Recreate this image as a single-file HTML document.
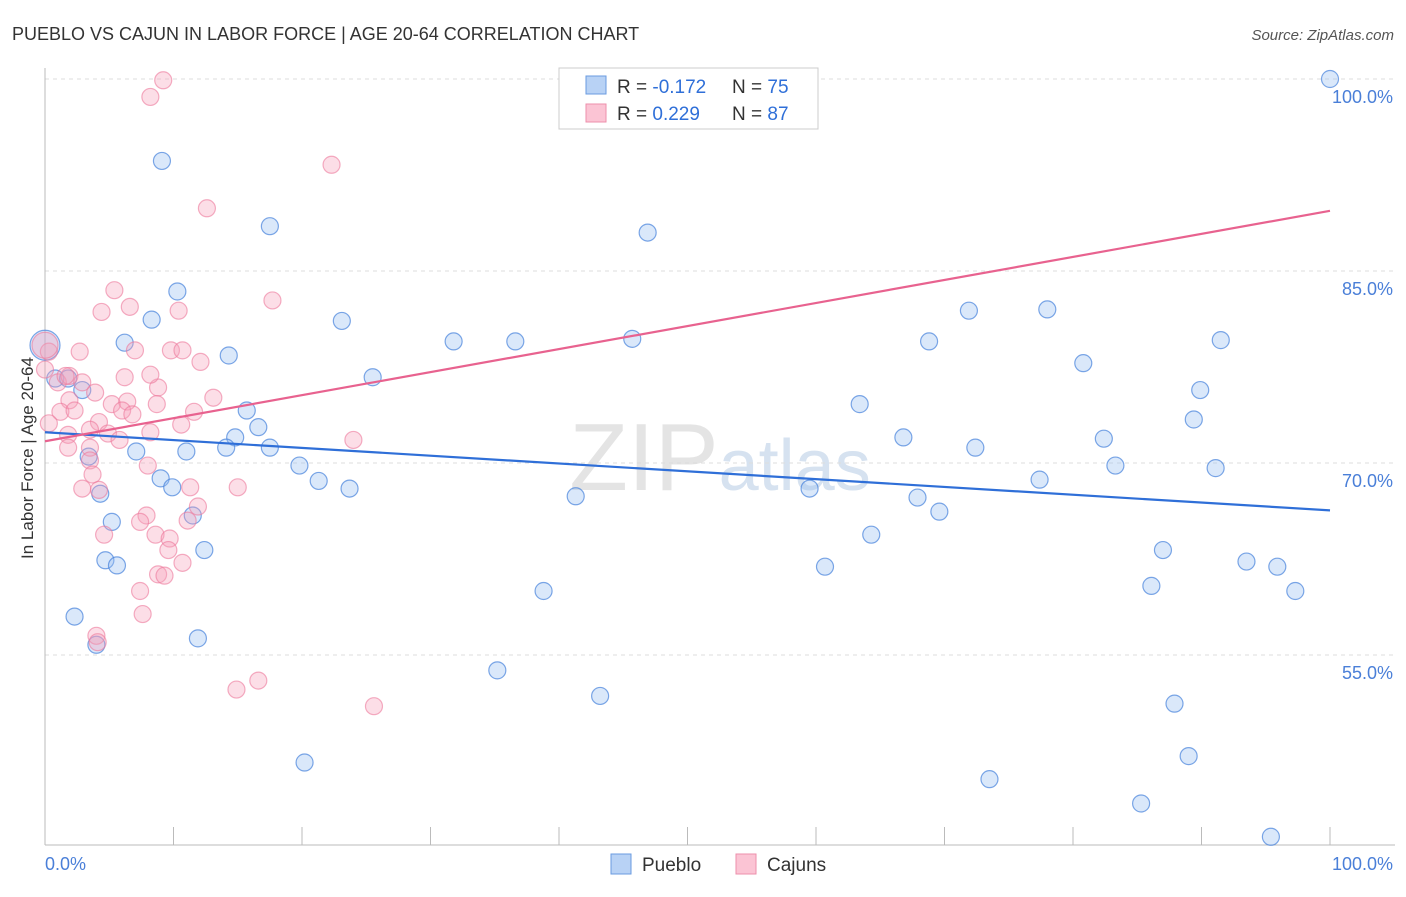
<!DOCTYPE html>
<html><head><meta charset="utf-8"><style>
body{margin:0;background:#fff;font-family:"Liberation Sans",sans-serif;}
svg text{font-family:"Liberation Sans",sans-serif;}
</style></head><body>
<svg id="chart" width="1406" height="892">
<text x="12" y="40" font-size="18" fill="#333">PUEBLO VS CAJUN IN LABOR FORCE | AGE 20-64 CORRELATION CHART</text>
<text x="1394" y="40" font-size="15" fill="#555" text-anchor="end" font-style="italic">Source: ZipAtlas.com</text>
<text x="33" y="458" font-size="17" fill="#333" text-anchor="middle" transform="rotate(-90 33 458)">In Labor Force | Age 20-64</text>
<text x="720" y="490" font-size="96" fill="#e4e4e4" text-anchor="middle" font-family="Liberation Serif">ZIP<tspan font-size="72" fill="#d6e2f0" font-family="Liberation Sans">atlas</tspan></text>
<g id="grid"></g><g id="ticks"></g><g id="pts"></g><g id="lines"></g>
<g>
<rect x="559" y="68" width="259" height="61" fill="#fff" stroke="#ccc"/>
<rect x="586" y="76" width="20" height="18" fill="#b8d2f5" stroke="#6a9be0"/>
<rect x="586" y="104" width="20" height="18" fill="#fbc4d4" stroke="#ee8fab"/>
<text x="617" y="93" font-size="19" fill="#333">R = <tspan fill="#2f6fd8">-0.172</tspan></text>
<text x="732" y="93" font-size="19" fill="#333">N = <tspan fill="#2f6fd8">75</tspan></text>
<text x="617" y="120" font-size="19" fill="#333">R = <tspan fill="#2f6fd8"> 0.229</tspan></text>
<text x="732" y="120" font-size="19" fill="#333">N = <tspan fill="#2f6fd8">87</tspan></text>
</g>
<g>
<rect x="611" y="854" width="20" height="20" fill="#b8d2f5" stroke="#6a9be0"/>
<text x="642" y="871" font-size="19" fill="#333">Pueblo</text>
<rect x="736" y="854" width="20" height="20" fill="#fbc4d4" stroke="#ee8fab"/>
<text x="767" y="871" font-size="19" fill="#333">Cajuns</text>
</g>
</svg>
<script>
const yTicks=[100,85,70,55];
const yTickLabels=["100.0%","85.0%","70.0%","55.0%"];
const xLabels=["0.0%","100.0%"];
const puebloX=[42.3,100,9.1,17.5,46.9,10.3,8.3,23.1,71.9,78.0,6.2,31.8,36.6,45.7,68.8,91.5,14.3,0,80.8,25.5,89.9,0.8,1.8,2.9,15.7,63.4,89.4,16.6,14.8,66.8,82.4,14.1,11.0,17.5,7.1,72.4,19.8,83.3,91.1,9.0,21.3,9.9,23.7,77.4,3.4,59.5,4.3,41.3,67.9,69.6,11.5,5.2,64.3,12.4,87.0,4.7,5.6,60.7,93.5,95.9,86.1,97.3,38.8,2.3,4.0,11.9,35.2,43.2,87.9,20.2,89.0,73.5,85.3,95.4];
const puebloY=[99.9,100,93.6,88.5,88.0,83.4,81.2,81.1,81.9,82.0,79.4,79.5,79.5,79.7,79.5,79.6,78.4,79.2,77.8,76.7,75.7,76.6,76.6,75.7,74.1,74.6,73.4,72.8,72.0,72.0,71.9,71.2,70.9,71.2,70.9,71.2,69.8,69.8,69.6,68.8,68.6,68.1,68.0,68.7,70.5,68.0,67.6,67.4,67.3,66.2,65.9,65.4,64.4,63.2,63.2,62.4,62.0,61.9,62.3,61.9,60.4,60.0,60.0,58.0,55.8,56.3,53.8,51.8,51.2,46.6,47.1,45.3,43.4,40.8];
const cajunX=[9.2,8.2,22.3,12.6,5.4,17.7,4.4,10.4,6.6,2.7,7.0,9.8,10.7,12.1,0.3,1.0,0,1.9,2.9,8.8,3.9,1.9,5.2,6.4,8.7,11.6,13.1,1.2,2.3,6.0,6.8,4.2,0.3,1.8,3.5,4.9,8.2,5.8,10.6,24.0,1.8,3.5,3.5,3.7,8.0,2.9,4.2,11.3,15.0,11.9,11.1,7.9,7.4,4.6,8.6,9.7,9.6,10.7,8.8,9.3,7.4,7.6,4.0,16.6,14.9,25.6,8.2,6.2,1.6,4.1,0];
const cajunY=[99.9,98.6,93.3,89.9,83.5,82.7,81.8,81.9,82.2,78.7,78.8,78.8,78.8,77.9,78.7,76.3,77.3,76.8,76.3,75.9,75.5,74.9,74.6,74.8,74.6,74.0,75.1,74.0,74.1,74.1,73.8,73.2,73.1,72.2,72.6,72.3,72.4,71.8,73.0,71.8,71.2,71.2,70.2,69.1,69.8,68.0,67.9,68.1,68.1,66.6,65.5,65.9,65.4,64.4,64.4,64.1,63.2,62.2,61.3,61.2,60.0,58.2,56.5,53.0,52.3,51.0,76.9,76.7,76.8,56.0,79.2];
const puebloTrend=[72.4,66.3];
const cajunTrend=[71.7,89.7];
const NS="http://www.w3.org/2000/svg";
const X0=45,X1=1330,Y100=79,PXPER=12.8;
function xs(v){return X0+(X1-X0)*v/100;}
function ys(v){return Y100+(100-v)*PXPER;}
function mk(t,a,p){const e=document.createElementNS(NS,t);for(const k in a)e.setAttribute(k,a[k]);p.appendChild(e);return e;}
const grid=document.getElementById('grid'),ticks=document.getElementById('ticks'),pts=document.getElementById('pts'),lines=document.getElementById('lines');
let ax=mk('line',{x1:45,y1:68,x2:45,y2:845,stroke:'#bbb'},ticks);

let bx=mk('line',{x1:45,y1:845,x2:1395,y2:845,stroke:'#bbb'},ticks);

yTicks.forEach((v,i)=>{
 const g=mk('line',{x1:45,x2:1395,y1:ys(v),y2:ys(v),stroke:'#ddd','stroke-dasharray':'4,4'},grid);
 
 const t=mk('text',{x:1393,y:ys(v)+24,'font-size':18,fill:'#4a7fd8','text-anchor':'end'},ticks);t.textContent=yTickLabels[i];
 
});
for(let i=0;i<=10;i++){const x=xs(i*10);const l=mk('line',{x1:x,x2:x,y1:827,y2:845,stroke:'#bbb'},ticks);
 }
const xl0=mk('text',{x:45,y:870,'font-size':18,fill:'#4a7fd8'},ticks);xl0.textContent=xLabels[0];

const xl1=mk('text',{x:1393,y:870,'font-size':18,fill:'#4a7fd8','text-anchor':'end'},ticks);xl1.textContent=xLabels[1];

puebloX.forEach((v,i)=>{const c=mk('circle',{cx:xs(v),cy:ys(puebloY[i]),r:(v===0?15:8.5),fill:'rgba(150,190,240,0.35)',stroke:'rgba(70,130,220,0.7)','stroke-width':1.2},pts);
 });
cajunX.forEach((v,i)=>{const big=(v===0&&cajunY[i]>79);const c=mk('circle',{cx:xs(v),cy:ys(cajunY[i]),r:(big?13:8.5),fill:'rgba(246,160,185,0.35)',stroke:'rgba(236,120,155,0.6)','stroke-width':1.2},pts);
 });
const pl=mk('line',{x1:xs(0),y1:ys(puebloTrend[0]),x2:xs(100),y2:ys(puebloTrend[1]),stroke:'#2f6fd8','stroke-width':2.2},lines);

const cl=mk('line',{x1:xs(0),y1:ys(cajunTrend[0]),x2:xs(100),y2:ys(cajunTrend[1]),stroke:'#e8628f','stroke-width':2.2},lines);

</script>
</body></html>
